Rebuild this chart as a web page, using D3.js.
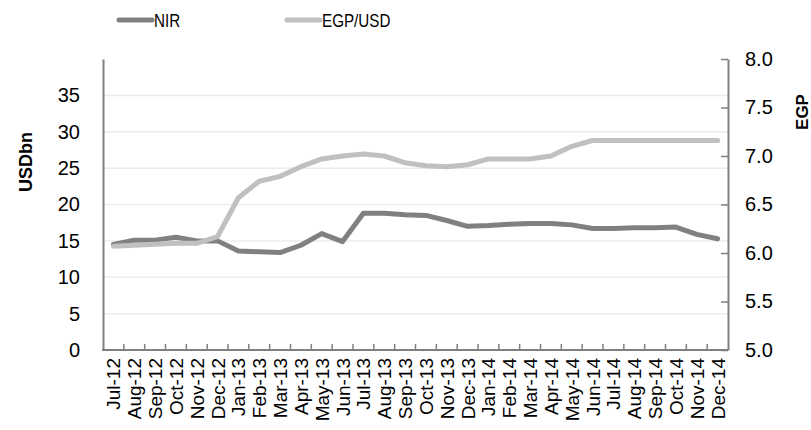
<!DOCTYPE html>
<html>
<head>
<meta charset="utf-8">
<script src="https://cdn.jsdelivr.net/npm/d3@7"></script>
<style>
  body { margin: 0; background: #fff; }
  text { font-family: "Liberation Sans", Arial, sans-serif; }
</style>
</head>
<body>
<svg id="chart"></svg>
<script>
// Data
const months = ["Jul-12","Aug-12","Sep-12","Oct-12","Nov-12","Dec-12",
  "Jan-13","Feb-13","Mar-13","Apr-13","May-13","Jun-13","Jul-13","Aug-13","Sep-13","Oct-13","Nov-13","Dec-13",
  "Jan-14","Feb-14","Mar-14","Apr-14","May-14","Jun-14","Jul-14","Aug-14","Sep-14","Oct-14","Nov-14","Dec-14"];
const nir = [14.5, 15.1, 15.1, 15.5, 15.0, 15.0,
  13.6, 13.5, 13.4, 14.4, 16.0, 14.9, 18.8, 18.8, 18.6, 18.5, 17.8, 17.0,
  17.1, 17.3, 17.4, 17.4, 17.2, 16.7, 16.7, 16.8, 16.8, 16.9, 15.9, 15.3];
const egpUsd = [6.07, 6.08, 6.09, 6.10, 6.10, 6.17,
  6.57, 6.74, 6.79, 6.89, 6.97, 7.00, 7.02, 7.00, 6.93, 6.90, 6.89, 6.91,
  6.97, 6.97, 6.97, 7.00, 7.10, 7.16, 7.16, 7.16, 7.16, 7.16, 7.16, 7.16];
const leftTicks = [0, 5, 10, 15, 20, 25, 30, 35];
const rightTicks = [5.0, 5.5, 6.0, 6.5, 7.0, 7.5, 8.0];

const width = 811, height = 430;
const margin = {left: 103, right: 83, top: 59, bottom: 80};

const svg = d3.select("#chart")
    .attr("width", width)
    .attr("height", height);

const x = d3.scaleBand()
    .domain(months)
    .range([margin.left, width - margin.right]);

const yL = d3.scaleLinear().domain([0, 40]).range([height - margin.bottom, margin.top]);
const yR = d3.scaleLinear().domain([5, 8]).range([height - margin.bottom, margin.top]);

// gridlines
svg.append("g")
    .selectAll("line")
    .data(leftTicks.slice(1))
    .join("line")
    .attr("x1", margin.left)
    .attr("x2", width - margin.right)
    .attr("y1", d => yL(d))
    .attr("y2", d => yL(d))
    .attr("stroke", "#ececec")
    .attr("stroke-width", 1.5);

// left axis
const gL = svg.append("g")
    .attr("transform", `translate(${margin.left},0)`)
    .call(d3.axisLeft(yL).tickValues(leftTicks).tickSize(0).tickPadding(23).tickFormat(d3.format("d")));
gL.select(".domain").attr("stroke", "#808080").attr("stroke-width", 2);
gL.selectAll("text").attr("font-size", 20).attr("fill", "#000");

// right axis
const gR = svg.append("g")
    .attr("transform", `translate(${width - margin.right},0)`)
    .call(d3.axisRight(yR).tickValues(rightTicks).tickSizeInner(-7).tickSizeOuter(0).tickPadding(17).tickFormat(d3.format(".1f")));
gR.select(".domain").attr("stroke", "#808080").attr("stroke-width", 2);
gR.selectAll(".tick line").attr("stroke", "#808080").attr("stroke-width", 1.5);
gR.selectAll("text").attr("font-size", 20).attr("fill", "#000");

// bottom axis
const boundaries = months.map((m, i) => margin.left + i * x.step());
const gB = svg.append("g");
gB.append("line")
    .attr("x1", margin.left - 1)
    .attr("x2", width - margin.right)
    .attr("y1", height - margin.bottom)
    .attr("y2", height - margin.bottom)
    .attr("stroke", "#808080")
    .attr("stroke-width", 2);
gB.selectAll("line.tk")
    .data(boundaries.slice(1))
    .join("line")
    .attr("class", "tk")
    .attr("x1", d => d).attr("x2", d => d)
    .attr("y1", height - margin.bottom)
    .attr("y2", height - margin.bottom - 6)
    .attr("stroke", "#808080")
    .attr("stroke-width", 1.5);
gB.selectAll("text")
    .data(months)
    .join("text")
    .attr("transform", d => `translate(${x(d) + x.bandwidth() / 2 + 7},${height - margin.bottom + 8}) rotate(-90)`)
    .attr("text-anchor", "end")
    .attr("font-size", 19)
    .text(d => d);

// lines
const lineL = d3.line()
    .x((d, i) => x(months[i]) + x.bandwidth() / 2)
    .y(d => yL(d));
const lineR = d3.line()
    .x((d, i) => x(months[i]) + x.bandwidth() / 2)
    .y(d => yR(d));

svg.append("path")
    .datum(nir)
    .attr("d", lineL)
    .attr("fill", "none")
    .attr("stroke", "#808080")
    .attr("stroke-width", 5)
    .attr("stroke-linecap", "round")
    .attr("stroke-linejoin", "round");

svg.append("path")
    .datum(egpUsd)
    .attr("d", lineR)
    .attr("fill", "none")
    .attr("stroke", "#c0c0c0")
    .attr("stroke-width", 5)
    .attr("stroke-linecap", "round")
    .attr("stroke-linejoin", "round");

// axis titles
svg.append("text")
    .attr("transform", "translate(32,162) rotate(-90)")
    .attr("text-anchor", "middle")
    .attr("font-size", 18)
    .attr("font-weight", "bold")
    .text("USDbn");
svg.append("text")
    .attr("transform", "translate(808,112) rotate(-90)")
    .attr("text-anchor", "middle")
    .attr("font-size", 17)
    .attr("font-weight", "bold")
    .text("EGP");

// legend (text is a narrow face in the original, so squeeze it a bit)
const legend = [
  {name: "NIR", color: "#808080", x: 119},
  {name: "EGP/USD", color: "#c0c0c0", x: 287}
];
const lg = svg.append("g").selectAll("g").data(legend).join("g")
    .attr("transform", d => `translate(${d.x},20)`);
lg.append("line")
    .attr("x1", 0).attr("x2", 33)
    .attr("stroke", d => d.color)
    .attr("stroke-width", 5)
    .attr("stroke-linecap", "round");
lg.append("text")
    .attr("transform", "translate(35,7) scale(0.8,1)")
    .attr("font-size", 19)
    .text(d => d.name);
</script>
</body>
</html>
